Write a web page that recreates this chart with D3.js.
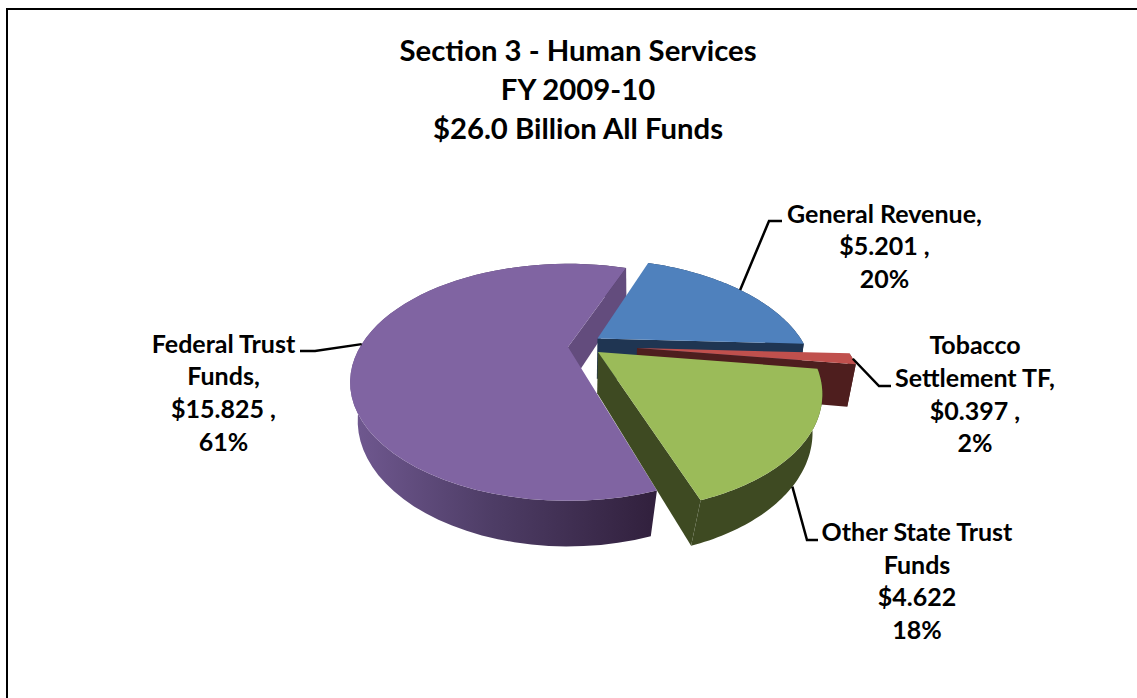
<!DOCTYPE html>
<html>
<head>
<meta charset="utf-8">
<script src="https://cdn.jsdelivr.net/npm/d3@7/dist/d3.min.js"></script>
<style>
html,body{margin:0;padding:0;background:#fff;overflow:hidden}
svg{display:block}
text{font-family:Lato,"Open Sans",sans-serif;font-weight:700;fill:#000;text-anchor:middle}
</style>
</head>
<body>
<div id="chart"></div>
<script>
// ---- data ----
const titleLines = ["Section 3 - Human Services", "FY 2009-10", "$26.0 Billion All Funds"];
const categories = ["General Revenue", "Tobacco Settlement TF", "Other State Trust Funds", "Federal Trust Funds"];
const values = [5.201, 0.397, 4.622, 15.825];
const labelLines = [
  ["General Revenue,", "$5.201 ,", "20%"],
  ["Tobacco", "Settlement TF,", "$0.397 ,", "2%"],
  ["Other State Trust", "Funds", "$4.622", "18%"],
  ["Federal Trust", "Funds,", "$15.825 ,", "61%"]
];

// ---- style and layout ----
const W = 1137, H = 698;
const topColors = ["#4F81BD", "#C0504D", "#9BBB59", "#8064A2"];
const wallColors = ["#1F3552", "#4E1E1E", "#3E4A22", "#634C7D"];
const explode = [[0.145, -0.08], [0.331, 0.009], [0.142, 0.045], [0, 0]];
const labelPos = [[884.5, 222.7], [975, 354.3], [917, 541], [223.5, 352.7]];
const leaderBends = [
  [[769, 221], [782, 221]],
  [[879, 386], [891, 386]],
  [[807, 540], [818, 540]],
  [[315, 351], [300, 351]]
];
const leaderFromBottom = [false, false, true, false];
const lineGap = 32.6;

const svg = d3.select("#chart").append("svg").attr("width", W).attr("height", H);
const defs = svg.append("defs");
const grad = defs.append("linearGradient").attr("id", "rimFederal")
  .attr("gradientUnits", "userSpaceOnUse")
  .attr("x1", 360).attr("x2", 650).attr("y1", 0).attr("y2", 0);
grad.append("stop").attr("offset", 0).attr("stop-color", "#6E578E");
grad.append("stop").attr("offset", 0.45).attr("stop-color", "#4E3D66");
grad.append("stop").attr("offset", 1).attr("stop-color", "#32213E");
const rimFill = ["#1F3552", "#4E1E1E", "#3E4A22", "url(#rimFederal)"];

// border (left and top only)
svg.append("rect").attr("x", 6).attr("y", 8).attr("width", 2).attr("height", H - 8).attr("fill", "#000");
svg.append("rect").attr("x", 6).attr("y", 8).attr("width", W - 6).attr("height", 2).attr("fill", "#000");

// perspective projection of the pie's top and bottom planes
const xTop = d3.scaleLinear().domain([0, 1]).range([568, 776]);
const yTop = d3.scaleLinear().domain([0, 1]).range([347, 455]);
const xBot = d3.scaleLinear().domain([0, 1]).range([568, 771]);
const yBot = d3.scaleLinear().domain([0, 1]).range([388, 505]);
const kTop = 0.298, kBot = 0.2615;
const projTop = (u, v) => { const w = 1 - kTop * v; return [xTop(u / w), yTop(v / w)]; };
const projBot = (u, v) => { const w = 1 - kBot * v; return [xBot(u / w), yBot(v / w)]; };
const rim = (a, off, proj) => proj(Math.sin(a) + off[0], -Math.cos(a) + off[1]);

const pie = d3.pie().sort(null).startAngle(20.9 * Math.PI / 180).endAngle((360 + 20.9) * Math.PI / 180);
const arcs = pie(values);
const line = d3.line();

const arcPoints = (d, off, proj) =>
  d3.range(0, 61).map(i => rim(d.startAngle + (d.endAngle - d.startAngle) * i / 60, off, proj));

// painter's order: back to front
const drawOrder = [3, 0, 1, 2];
const pieG = svg.append("g");
drawOrder.forEach(i => {
  const d = arcs[i], off = explode[i];
  const g = pieG.append("g").attr("class", "slice");
  const topRim = arcPoints(d, off, projTop);
  const botRim = arcPoints(d, off, projBot);
  const cTop = projTop(off[0], off[1]), cBot = projBot(off[0], off[1]);
  // outer wall
  g.append("path").attr("d", line([...topRim, ...botRim.slice().reverse()]) + "Z").attr("fill", rimFill[i]);
  // radial wall on the clockwise end faces the viewer
  g.append("path").attr("d", line([cTop, topRim[60], botRim[60], cBot]) + "Z").attr("fill", wallColors[i]);
  // top face
  g.append("path").attr("d", line([cTop, ...topRim]) + "Z").attr("fill", topColors[i]);
});

// leader lines
arcs.forEach((d, i) => {
  const mid = (d.startAngle + d.endAngle) / 2;
  const start = rim(mid, explode[i], leaderFromBottom[i] ? projBot : projTop);
  svg.append("path")
    .attr("d", line([start, ...leaderBends[i]]))
    .attr("fill", "none").attr("stroke", "#000").attr("stroke-width", 2.5);
});

// title
svg.append("g").selectAll("text").data(titleLines).join("text")
  .attr("x", 578).attr("y", (d, i) => 61 + i * 39)
  .style("font-size", "29.3px").text(d => d);

// data labels
labelLines.forEach((lines, i) => {
  svg.append("g").selectAll("text").data(lines).join("text")
    .attr("x", labelPos[i][0]).attr("y", (d, j) => labelPos[i][1] + j * lineGap)
    .style("font-size", "25px").text(d => d);
});
</script>
</body>
</html>
